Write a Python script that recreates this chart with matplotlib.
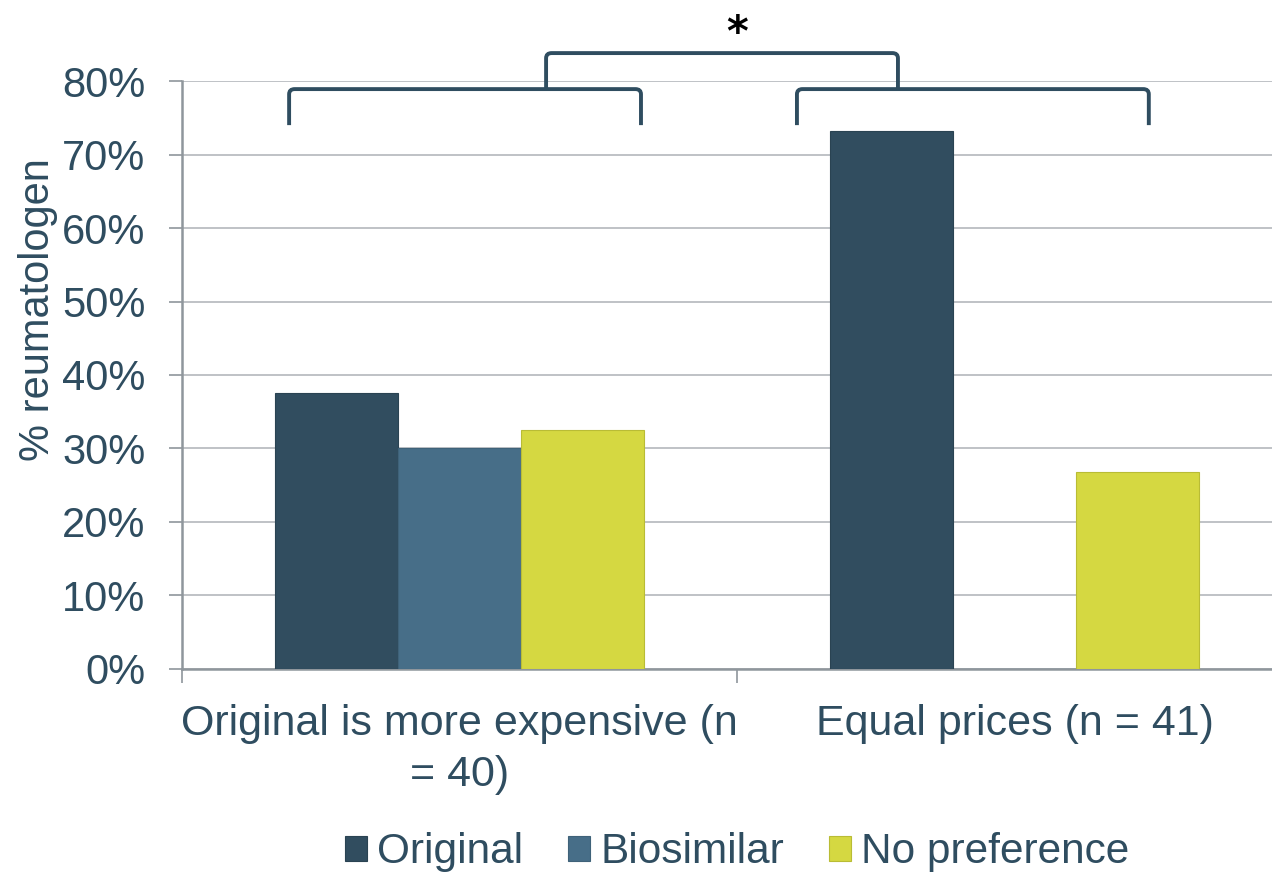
"""
Voorkeur van reumatologen: origineel vs. biosimilar, per prijssituatie
"""

import matplotlib
matplotlib.use('Agg')
import matplotlib.pyplot as plt
from matplotlib.path import Path
import matplotlib.patches as patches
from matplotlib.ticker import PercentFormatter

plt.rcParams['font.family'] = ['Liberation Sans', 'DejaVu Sans']

# data
categories = ['Original is more expensive (n\n= 40)', 'Equal prices (n = 41)']
series_names = ['Original', 'Biosimilar', 'No preference']
original = [0.375, 0.732]
biosimilar = [0.30, 0.0]
no_preference = [0.325, 0.268]

colors = ['#314d5f', '#476e88', '#d5d841']
edges = ['#2a4352', '#3f6279', '#b9bc35']
text_color = '#2f4d60'
bracket_color = '#2f4d60'

fig = plt.figure(figsize=(12.72, 8.73), dpi=100)
# axes loopt aan de rechterkant door tot buiten de figuur
ax = fig.add_axes([182 / 1272, 0.2337, 1110 / 1272, 0.6735])

width = 0.2216
x = range(len(categories))
for i, (name, vals) in enumerate(zip(series_names, [original, biosimilar, no_preference])):
    pos = [xi + (i - 1) * width for xi in x]
    ax.bar(pos, vals, width=width, color=colors[i], edgecolor=edges[i],
           linewidth=0.8, label=name, zorder=3)

ax.set_xlim(-0.5, 1.5)
ax.set_ylim(0, 0.8)
ax.set_yticks([i / 10 for i in range(9)])
ax.yaxis.set_major_formatter(PercentFormatter(1.0, decimals=0))
ax.grid(axis='y', color='#b4b8bc', linewidth=1.2, zorder=0)

ax.set_xticks(list(x))
ax.set_xticklabels(categories, fontsize=31, color=text_color, linespacing=1.38)
ax.set_xticks([-0.5, 0.5, 1.5], minor=True)
ax.tick_params(axis='x', which='major', length=0, pad=25)
ax.tick_params(axis='x', which='minor', length=10, color='#8f969c', width=1.2)
ax.tick_params(axis='y', labelsize=30, labelcolor=text_color, length=9.5,
               color='#8f969c', width=1.2, pad=17)

for side in ['top', 'right']:
    ax.spines[side].set_visible(False)
for side in ['left', 'bottom']:
    ax.spines[side].set_color('#8f969c')
    ax.spines[side].set_linewidth(1.8)

ax.set_ylabel('% reumatologen', fontsize=30, color=text_color)
ax.yaxis.set_label_coords(-0.112, 0.612)


def bracket(ax, x0, x1, y, y_end, rx=0.01, ry=0.007):
    # horizontale lijn met afgeronde hoeken naar beneden
    verts = [(x0, y_end), (x0, y - ry), (x0, y), (x0 + rx, y),
             (x1 - rx, y), (x1, y), (x1, y - ry), (x1, y_end)]
    codes = [Path.MOVETO, Path.LINETO, Path.CURVE3, Path.CURVE3,
             Path.LINETO, Path.CURVE3, Path.CURVE3, Path.LINETO]
    ax.add_patch(patches.PathPatch(Path(verts, codes), fill=False,
                                   edgecolor=bracket_color, linewidth=2.8,
                                   clip_on=False, zorder=5))


# significantie-haken boven de groepen
bracket(ax, -0.307, 0.327, 0.789, 0.740)
bracket(ax, 0.608, 1.242, 0.789, 0.740)
bracket(ax, 0.156, 0.790, 0.838, 0.789)
ax.text(0.5, 0.864, '*', ha='center', va='center', fontsize=30,
        fontweight='bold', color='black', family='DejaVu Sans', clip_on=False)

leg = ax.legend(loc='center', bbox_to_anchor=(0.5, -0.312), ncol=3, frameon=False,
                fontsize=30.5, handlelength=0.52, handleheight=0.52,
                handletextpad=0.25, columnspacing=1.05, borderpad=0.1)
for t in leg.get_texts():
    t.set_color(text_color)

plt.savefig('out.png', dpi=100)
